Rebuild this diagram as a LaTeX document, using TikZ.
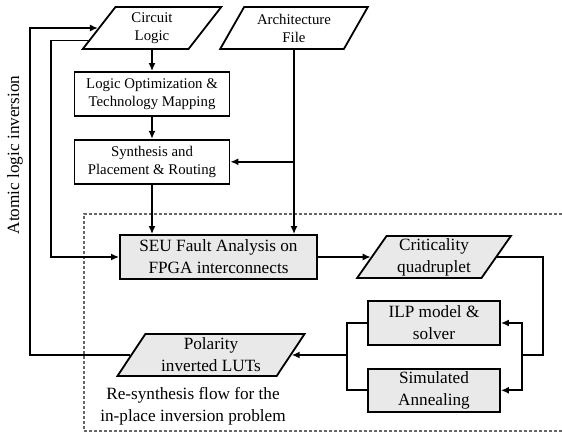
\documentclass[tikz,border=0pt]{standalone}
\usepackage{fontspec}
\setmainfont{Liberation Serif}
\usetikzlibrary{
  arrows.meta,
  shapes.geometric,
  positioning,
  calc
}
\newcommand{\smallfnt}{\fontsize{7.4}{9}\selectfont}
\newcommand{\largefnt}{\fontsize{8.6}{11}\selectfont}
\tikzset{
  flow box/.style={
    draw, rectangle, line width=0.9pt, fill=white,
    minimum width=77.5pt, minimum height=22pt,
    inner sep=1pt, align=center,
    font=\smallfnt
  },
  flow data/.style={
    draw, trapezium, line width=0.9pt, fill=white,
    trapezium left angle=60, trapezium right angle=120,
    trapezium stretches=true,
    minimum height=21pt, inner sep=1pt, align=center,
    font=\smallfnt
  },
  seu box/.style={
    flow box, fill=gray!17, font=\largefnt
  },
  seu data/.style={
    flow data, fill=gray!17, font=\largefnt
  },
  flow arrow/.style={
    -{Latex[length=4pt,width=3.5pt]}, line width=0.9pt, draw=black
  },
  flow line/.style={
    line width=0.9pt, draw=black
  },
  frame line/.style={
    draw=black!60, line width=0.6pt, dash pattern=on 1.5pt off 1pt
  },
}

\begin{document}
\begin{tikzpicture}[x=0.5pt, y=-0.5pt]
  \useasboundingbox (0,0) rectangle (562,434);

  % resynthesis frame
  \draw[frame line] (562,214) -- (84,214) -- (84,431) -- (562,431);

  % front end
  \node[flow data, minimum width=69.5pt] (logic) at (152,28)
    {Circuit\\Logic};
  \node[flow data, minimum width=74pt] (arch) at (294,28)
    {Architecture\\File};
  \node[flow box] (optim) at (152,94)
    {Logic Optimization \&\\Technology Mapping};
  \node[flow box, below=11pt of optim] (synth)
    {Synthesis and\\Placement \& Routing};

  % in-place inversion flow
  \node[seu box, minimum width=98.5pt] (seu) at (218.5,257)
    {SEU Fault Analysis on\\FPGA interconnects};
  \node[seu data, minimum width=77pt] (crit) at (434,257)
    {Criticality\\quadruplet};
  \node[seu box, minimum width=66pt] (ilp) at (434,323)
    {ILP model \&\\solver};
  \node[seu box, minimum width=66pt, minimum height=21.5pt,
    below=11pt of ilp] (sa)
    {Simulated\\Annealing};
  \node[seu data, minimum width=94pt] (pol) at (211,355)
    {Polarity\\inverted LUTs};

  \node[font=\largefnt, align=center] (resyn) at (193,406)
    {Re-synthesis flow for the\\in-place inversion problem};
  \node[font=\largefnt, rotate=90] (atomic) at (15,155)
    {Atomic logic inversion};

  \coordinate (turn) at (543,355);
  \coordinate (fork) at (522,355);
  \coordinate (join) at (347,355);
  \coordinate (fbx)  at (30,200);
  \coordinate (sx)   at (51,200);

  \draw[flow arrow] (logic) -- (optim);
  \draw[flow arrow] (optim) -- (synth);
  \draw[flow arrow] (synth.south) -- (synth.south |- seu.north);
  \draw[flow arrow] (arch.south) -- (arch.south |- seu.north);
  \draw[flow arrow] (arch.south |- synth.east) -- (synth.east);
  \draw[flow arrow] (seu) -- (crit);

  \draw[flow line] (crit.east) -| (turn) -- (fork);
  \draw[flow arrow] (fork) |- (ilp.east);
  \draw[flow arrow] (fork) |- (sa.east);
  \draw[flow line] (ilp.west) -| (join);
  \draw[flow line] (sa.west) -| (join);
  \draw[flow arrow] (join) -- (pol.east);

  \draw[flow arrow] (pol.west) -| (fbx) |- (logic.west);
  \draw[flow arrow] ($(logic.west)!0.57!(logic.bottom left corner)$)
    -| (sx) |- (seu.west);

\end{tikzpicture}
\end{document}
